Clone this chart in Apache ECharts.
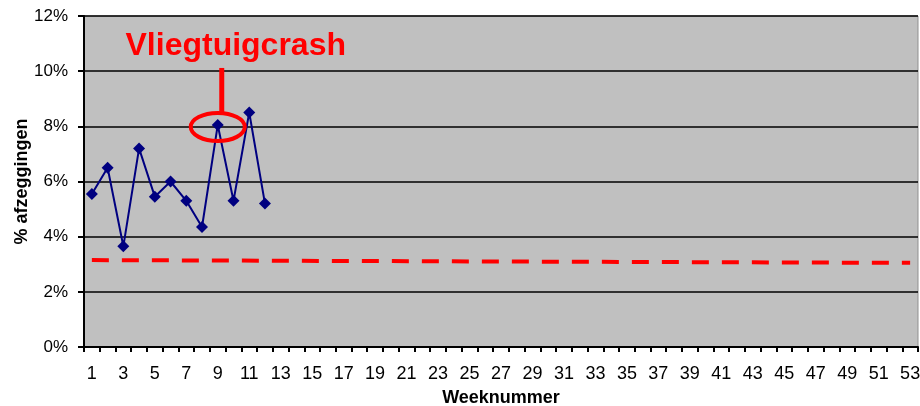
<!DOCTYPE html>
<html>
<head>
<meta charset="utf-8">
<script src="https://cdn.jsdelivr.net/npm/echarts@6/dist/echarts.min.js"></script>
<style>
html,body{margin:0;padding:0;background:#fff;}
#chart{width:920px;height:406px;}
</style>
</head>
<body>
<div id="chart"></div>
<script>
// Week categories 1..53
var weeks = ['1','2','3','4','5','6','7','8','9','10','11','12','13','14','15','16','17','18','19','20','21','22','23','24','25','26','27','28','29','30','31','32','33','34','35','36','37','38','39','40','41','42','43','44','45','46','47','48','49','50','51','52','53'];
// % afzeggingen per week (weeks 1-12)
var afzeggingen = [5.55, 6.5, 3.65, 7.2, 5.45, 6.0, 5.3, 4.35, 8.05, 5.3, 8.5, 5.2];
// Reference (dashed red) line: value at week 1 and at week 53
var referentieStart = 3.15;
var referentieEind = 3.05;
var yTicks = [0, 2, 4, 6, 8, 10, 12];
var annotatie = 'Vliegtuigcrash';
var annotatieWeekIndex = 8;

var refData = weeks.map(function (w, i) {
  if (i === 0) return referentieStart;
  if (i === weeks.length - 1) return referentieEind;
  return null;
});

var font = '"Liberation Sans", Arial, sans-serif';
var chart = echarts.init(document.getElementById('chart'), null, {renderer: 'canvas'});
chart.setOption({
  animation: false,
  grid: {
    left: 84, right: 2, top: 16, bottom: 59,
    containLabel: false, outerBoundsMode: 'none',
    show: true, backgroundColor: '#c0c0c0', borderColor: '#909090', borderWidth: 1
  },
  xAxis: {
    type: 'category',
    data: weeks,
    boundaryGap: true,
    name: 'Weeknummer',
    nameLocation: 'middle',
    nameGap: 42,
    nameMoveOverlap: false,
    nameTextStyle: {fontFamily: font, fontWeight: 'bold', fontSize: 18, color: '#000'},
    axisLine: {lineStyle: {color: '#000', width: 2}},
    axisTick: {show: true, interval: 0, length: 5, lineStyle: {color: '#000', width: 2}},
    axisLabel: {interval: 1, fontFamily: font, fontSize: 18, color: '#000', margin: 18},
    splitLine: {show: false}
  },
  yAxis: {
    type: 'value',
    min: yTicks[0],
    max: yTicks[yTicks.length - 1],
    interval: 2,
    name: '% afzeggingen',
    nameLocation: 'middle',
    nameGap: 53,
    nameMoveOverlap: false,
    nameRotate: 90,
    nameTextStyle: {fontFamily: font, fontWeight: 'bold', fontSize: 18, color: '#000'},
    axisLine: {show: true, lineStyle: {color: '#000', width: 2}},
    axisTick: {show: true, length: 6, lineStyle: {color: '#000', width: 2}},
    axisLabel: {fontFamily: font, fontSize: 17, color: '#000', margin: 16, formatter: '{value}%'},
    splitLine: {show: true, lineStyle: {color: '#000', width: 1.5}}
  },
  series: [
    {
      type: 'line',
      data: refData,
      connectNulls: true,
      symbol: 'none',
      lineStyle: {color: '#ff0000', width: 4, type: [17, 13]},
      z: 2
    },
    {
      type: 'line',
      data: afzeggingen,
      symbol: 'diamond',
      symbolSize: 12,
      showAllSymbol: true,
      itemStyle: {color: '#000080'},
      lineStyle: {color: '#000080', width: 2},
      z: 3
    }
  ]
});

var pt = chart.convertToPixel({seriesIndex: 1}, [annotatieWeekIndex, afzeggingen[annotatieWeekIndex]]);
chart.setOption({
  graphic: [
    {
      type: 'ellipse',
      shape: {cx: pt[0], cy: pt[1] + 2, rx: 27, ry: 14},
      style: {fill: 'none', stroke: '#ff0000', lineWidth: 4},
      z: 10
    },
    {
      type: 'line',
      shape: {x1: pt[0] + 4, y1: pt[1] - 57, x2: pt[0] + 4, y2: pt[1] - 13},
      style: {stroke: '#ff0000', lineWidth: 5},
      z: 10
    },
    {
      type: 'text',
      x: pt[0] + 18,
      y: pt[1] - 79,
      style: {
        text: annotatie, fill: '#ff0000', fontFamily: font, fontWeight: 'bold', fontSize: 32,
        align: 'center', verticalAlign: 'middle'
      },
      z: 10
    }
  ]
});
</script>
</body>
</html>
